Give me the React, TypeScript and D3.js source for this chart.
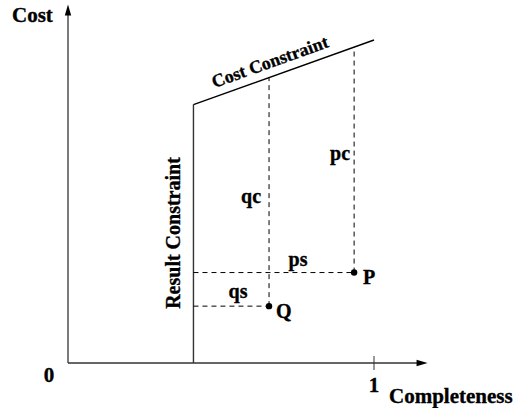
import React from "react";
import * as d3 from "d3";

// Conceptual values (normalized: completeness 0..1, cost 0..1)
const xTicks = [0, 1];
const xTickLabels = ["0", "1"];
const resultConstraintX = 0.41;
const costConstraint = [
  { c: 0.41, cost: 0.8 },
  { c: 1.0, cost: 1.0 },
];
const points = [
  { name: "P", c: 0.935, cost: 0.28 },
  { name: "Q", c: 0.657, cost: 0.176 },
];
const axisMax = { c: 1.175, cost: 1.11 };

const W = 517;
const H = 408;
const FONT = "'Liberation Serif', 'Times New Roman', serif";

export default function App() {
  const x = d3.scaleLinear().domain([0, 1]).range([68, 374]);
  const y = d3.scaleLinear().domain([0, 1]).range([363, 40]);
  const costAt = (c: number) => {
    const [a, b] = costConstraint;
    return a.cost + ((c - a.c) * (b.cost - a.cost)) / (b.c - a.c);
  };
  const line = d3
    .line<{ c: number; cost: number }>()
    .x((d) => x(d.c))
    .y((d) => y(d.cost));

  const x0 = x(0);
  const y0 = y(0);
  const xEnd = x(axisMax.c);
  const yEnd = y(axisMax.cost);
  const stroke = "#333";
  const dash = "5,4";
  const P = points[0];
  const Q = points[1];
  const ang =
    (Math.atan2(
      y(costConstraint[1].cost) - y(costConstraint[0].cost),
      x(costConstraint[1].c) - x(costConstraint[0].c)
    ) *
      180) /
    Math.PI;
  const ccMid = 0.676;
  const txt = {
    fontFamily: FONT,
    fontWeight: 700,
    fill: "#000",
    stroke: "#000",
    strokeWidth: 0.35,
  } as const;

  return (
    <svg
      width={W}
      height={H}
      style={{ position: "absolute", left: 0, top: 0 }}
      viewBox={`0 0 ${W} ${H}`}
    >
      <rect width={W} height={H} fill="#fff" />
      {/* axes */}
      <line x1={x0} y1={y0} x2={x0} y2={yEnd + 9} stroke={stroke} strokeWidth={1.3} />
      <path d={`M${x0},${yEnd} L${x0 - 3.2},${yEnd + 11} L${x0 + 3.2},${yEnd + 11} Z`} fill="#000" />
      <line x1={x0} y1={y0} x2={xEnd - 9} y2={y0} stroke={stroke} strokeWidth={1.3} />
      <path d={`M${xEnd},${y0} L${xEnd - 11},${y0 - 3.2} L${xEnd - 11},${y0 + 3.2} Z`} fill="#000" />
      {/* tick at 1 */}
      <line x1={x(1)} y1={y0 - 7} x2={x(1)} y2={y0 + 7} stroke={stroke} strokeWidth={1} />
      <text x={x(xTicks[0]) - 19} y={y0 + 19} textAnchor="middle" fontSize={21} {...txt}>
        {xTickLabels[0]}
      </text>
      <text x={x(xTicks[1])} y={y0 + 29} textAnchor="middle" fontSize={21} {...txt}>
        {xTickLabels[1]}
      </text>
      <text x={12} y={22} fontSize={21} {...txt}>Cost</text>
      <text x={389} y={403} fontSize={21} {...txt}>Completeness</text>

      {/* result constraint */}
      <line
        x1={x(resultConstraintX)}
        y1={y0}
        x2={x(resultConstraintX)}
        y2={y(costConstraint[0].cost)}
        stroke={stroke}
        strokeWidth={1.4}
      />
      <path d={line(costConstraint) || ""} fill="none" stroke="#000" strokeWidth={1.4} />
      <text
        transform={`translate(${x(resultConstraintX) - 13},233) rotate(-90)`}
        textAnchor="middle"
        fontSize={20}
        {...txt}
      >
        Result Constraint
      </text>
      <text
        transform={`translate(${x(ccMid) - 3},${y(costAt(ccMid)) - 8}) rotate(${ang})`}
        textAnchor="middle"
        fontSize={18}
        {...txt}
      >
        Cost Constraint
      </text>

      {/* dashed guides */}
      {points.map((p) => (
        <g key={p.name}>
          <line
            x1={x(p.c)}
            y1={y(p.cost)}
            x2={x(p.c)}
            y2={y(costAt(p.c))}
            stroke="#000"
            strokeWidth={1}
            strokeDasharray={dash}
          />
          <line
            x1={x(resultConstraintX)}
            y1={y(p.cost)}
            x2={x(p.c)}
            y2={y(p.cost)}
            stroke="#000"
            strokeWidth={1}
            strokeDasharray={dash}
          />
          <circle cx={x(p.c)} cy={y(p.cost)} r={3.2} fill="#000" />
        </g>
      ))}
      <text x={x(P.c) + 9} y={y(P.cost) + 11} fontSize={20} {...txt}>P</text>
      <text x={x(Q.c) + 7} y={y(Q.cost) + 12} fontSize={20} {...txt}>Q</text>
      <text x={238} y={y(Q.cost) - 8} textAnchor="middle" fontSize={20} {...txt}>
        qs
      </text>
      <text x={298} y={y(P.cost) - 7} textAnchor="middle" fontSize={20} {...txt}>
        ps
      </text>
      <text x={x(Q.c) - 18} y={203} textAnchor="middle" fontSize={20} {...txt}>
        qc
      </text>
      <text x={x(P.c) - 14} y={160} textAnchor="middle" fontSize={20} {...txt}>
        pc
      </text>
    </svg>
  );
}
